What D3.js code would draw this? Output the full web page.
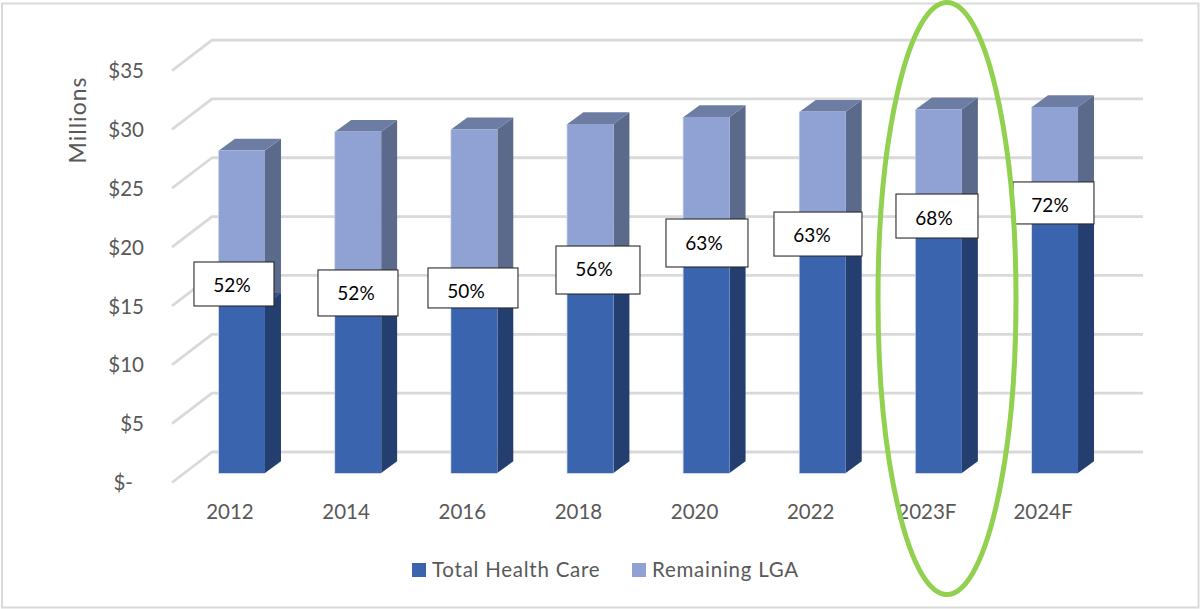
<!DOCTYPE html>
<html>
<head>
<meta charset="utf-8">
<script src="https://cdn.jsdelivr.net/npm/d3@7"></script>
<style>
html,body{margin:0;padding:0;background:#fff;overflow:hidden}
svg{display:block}
text{font-family:Lato,"Noto Sans",sans-serif}
</style>
</head>
<body>
<svg id="chart" width="1201" height="609"></svg>
<script>
const categories = ["2012","2014","2016","2018","2020","2022","2023F","2024F"];
const totalHealthCare = [14.3,15.1,14.6,16.6,19.1,19.3,21.0,22.4];
const remainingLGA = [13.1,13.9,14.6,13.05,11.15,11.4,9.9,8.7];
const shareLabels = ["52%","52%","50%","56%","63%","63%","68%","72%"];
const yTicks = [0,5,10,15,20,25,30,35];
const seriesNames = ["Total Health Care","Remaining LGA"];

// manually placed label boxes: [left offset from bar, top offset from the stack split, width, height, text dx, text dy]
const labelLayout = [
  [-25,-42.7,80,44,38,23],
  [-17.15,-25.3,80,46,38,23],
  [-23.3,-33.2,90,40,38,23],
  [-11.45,-31.6,84,48,38,23],
  [-17.6,-29.2,82,48,38,24],
  [-25.75,-33.8,88,44,38,23],
  [-19.9,-31.8,82,44,38,24],
  [-19.05,-27.4,81,42,37,23]
];

const svg = d3.select("#chart");
const depth = {x:16, y:-11.7};
const wall = {x:40, y:-30.5};

const x = d3.scaleBand().domain(categories)
  .range([183.9, 183.9 + 116.15*categories.length])
  .paddingInner(0.604).paddingOuter(0.302);
const y = d3.scaleLinear().domain([0,35]).range([473, 473 - 35*11.77]);
// front edge of the chart floor
const yFront = d3.scaleLinear().domain([0,35]).range([482.5, 482.5 - 35*11.77]);

const colors = {
  health:{front:"#3a64ad", side:"#243f6f", top:"#2f5290"},
  lga:{front:"#90a2d4", side:"#5b6a8a", top:"#6c7ca2"}
};

// outer frame
svg.append("rect").attr("x",2).attr("y",3.5).attr("width",1196.5).attr("height",604)
  .attr("fill","#fff").attr("stroke","#d9d9d9").attr("stroke-width",2);

// walls
const grid = svg.append("g").attr("fill","none").attr("stroke","#d9d9d9").attr("stroke-width",2.8);
grid.selectAll("path").data(yTicks).join("path")
  .attr("stroke-linejoin","round")
  .attr("d", d => d3.line()([[172,yFront(d)],[172+wall.x,yFront(d)+wall.y],[1143,yFront(d)+wall.y]]));

// y axis labels
const yAxis = d3.axisLeft(yFront).tickValues(yTicks).tickSize(0).tickPadding(0)
  .tickFormat(d => d === 0 ? "$-" : "$" + d);
const yg = svg.append("g").attr("transform","translate(144,0)").call(yAxis);
yg.select(".domain").remove();
yg.selectAll("text").attr("font-size",20.5).attr("fill","#595959").attr("dy","0.35em")
  .style("font-family","Lato,'Noto Sans',sans-serif")
  .attr("x", d => d === 0 ? -11 : 0);

// x axis labels
const xAxis = d3.axisBottom(x).tickSize(0).tickPadding(0);
const xg = svg.append("g").attr("transform","translate(-12,512)").call(xAxis);
xg.select(".domain").remove();
xg.selectAll("text").attr("font-size",20.5).attr("fill","#595959").attr("dy","0.35em")
  .style("font-family","Lato,'Noto Sans',sans-serif");

// stacked 3D bars
const stack = categories.map((c,i)=>({c,i,a:totalHealthCare[i],b:totalHealthCare[i]+remainingLGA[i]}));
const poly = pts => d3.line()(pts) + "Z";
function drawSeg(g, lo, hi, col){
  const xx = d => x(d.c), w = x.bandwidth();
  g.append("path").attr("fill",col.side).attr("d", d => poly([
    [xx(d)+w,y(lo(d))],[xx(d)+w+depth.x,y(lo(d))+depth.y],[xx(d)+w+depth.x,y(hi(d))+depth.y],[xx(d)+w,y(hi(d))]]));
  g.append("path").attr("fill",col.top).attr("d", d => poly([
    [xx(d),y(hi(d))],[xx(d)+depth.x,y(hi(d))+depth.y],[xx(d)+w+depth.x,y(hi(d))+depth.y],[xx(d)+w,y(hi(d))]]));
  // pale edge on the left and bottom of the front face
  g.append("rect").attr("fill","#c4cfe6").attr("x",d=>xx(d)-0.8).attr("width",w+0.8)
    .attr("y",d=>y(hi(d))).attr("height",d=>y(lo(d))-y(hi(d))+0.8);
  g.append("rect").attr("fill",col.front).attr("x",xx).attr("width",w)
    .attr("y",d=>y(hi(d))).attr("height",d=>y(lo(d))-y(hi(d)));
}
const bars = svg.selectAll("g.bar").data(stack).join("g").attr("class","bar");
drawSeg(bars, d=>d.a, d=>d.b, colors.lga);
drawSeg(bars, d=>0, d=>d.a, colors.health);

// data-label boxes
const lbl = svg.selectAll("g.lbl").data(stack).join("g").attr("class","lbl")
  .attr("transform", d => `translate(${x(d.c)+labelLayout[d.i][0]},${y(d.a)+labelLayout[d.i][1]})`);
lbl.append("rect").attr("x",0).attr("y",0)
  .attr("width",d=>labelLayout[d.i][2]).attr("height",d=>labelLayout[d.i][3])
  .attr("fill","#fff").attr("stroke","#2a2a2a").attr("stroke-width",1.1);
lbl.append("text").attr("x",d=>labelLayout[d.i][4]).attr("y",d=>labelLayout[d.i][5])
  .attr("dy","0.35em").attr("text-anchor","middle").attr("font-size",19).attr("fill","#000")
  .text(d=>shareLabels[d.i]);

// legend
const legendSwatch = ["#3a64ad","#90a2d4"];
const legendX = d3.scaleOrdinal().domain(seriesNames).range([412,632]);
const leg = svg.selectAll("g.leg").data(seriesNames).join("g").attr("class","leg")
  .attr("transform",d=>`translate(${legendX(d)},563)`);
leg.append("rect").attr("width",14).attr("height",14).attr("fill",(d,i)=>legendSwatch[i]);
leg.append("text").attr("x",20).attr("y",7).attr("dy","0.35em").attr("font-size",20.5)
  .attr("letter-spacing",0.75).attr("fill","#595959").text(d=>d);

// axis title
svg.append("text").attr("transform","translate(78,120) rotate(-90)")
  .attr("text-anchor","middle").attr("dy","0.35em").attr("font-size",23).attr("letter-spacing",1)
  .attr("fill","#595959").text("Millions");

// highlight ellipse
svg.append("ellipse").attr("cx",947).attr("cy",298.5).attr("rx",69).attr("ry",296)
  .attr("fill","none").attr("stroke","#92d050").attr("stroke-width",5);
</script>
</body>
</html>
